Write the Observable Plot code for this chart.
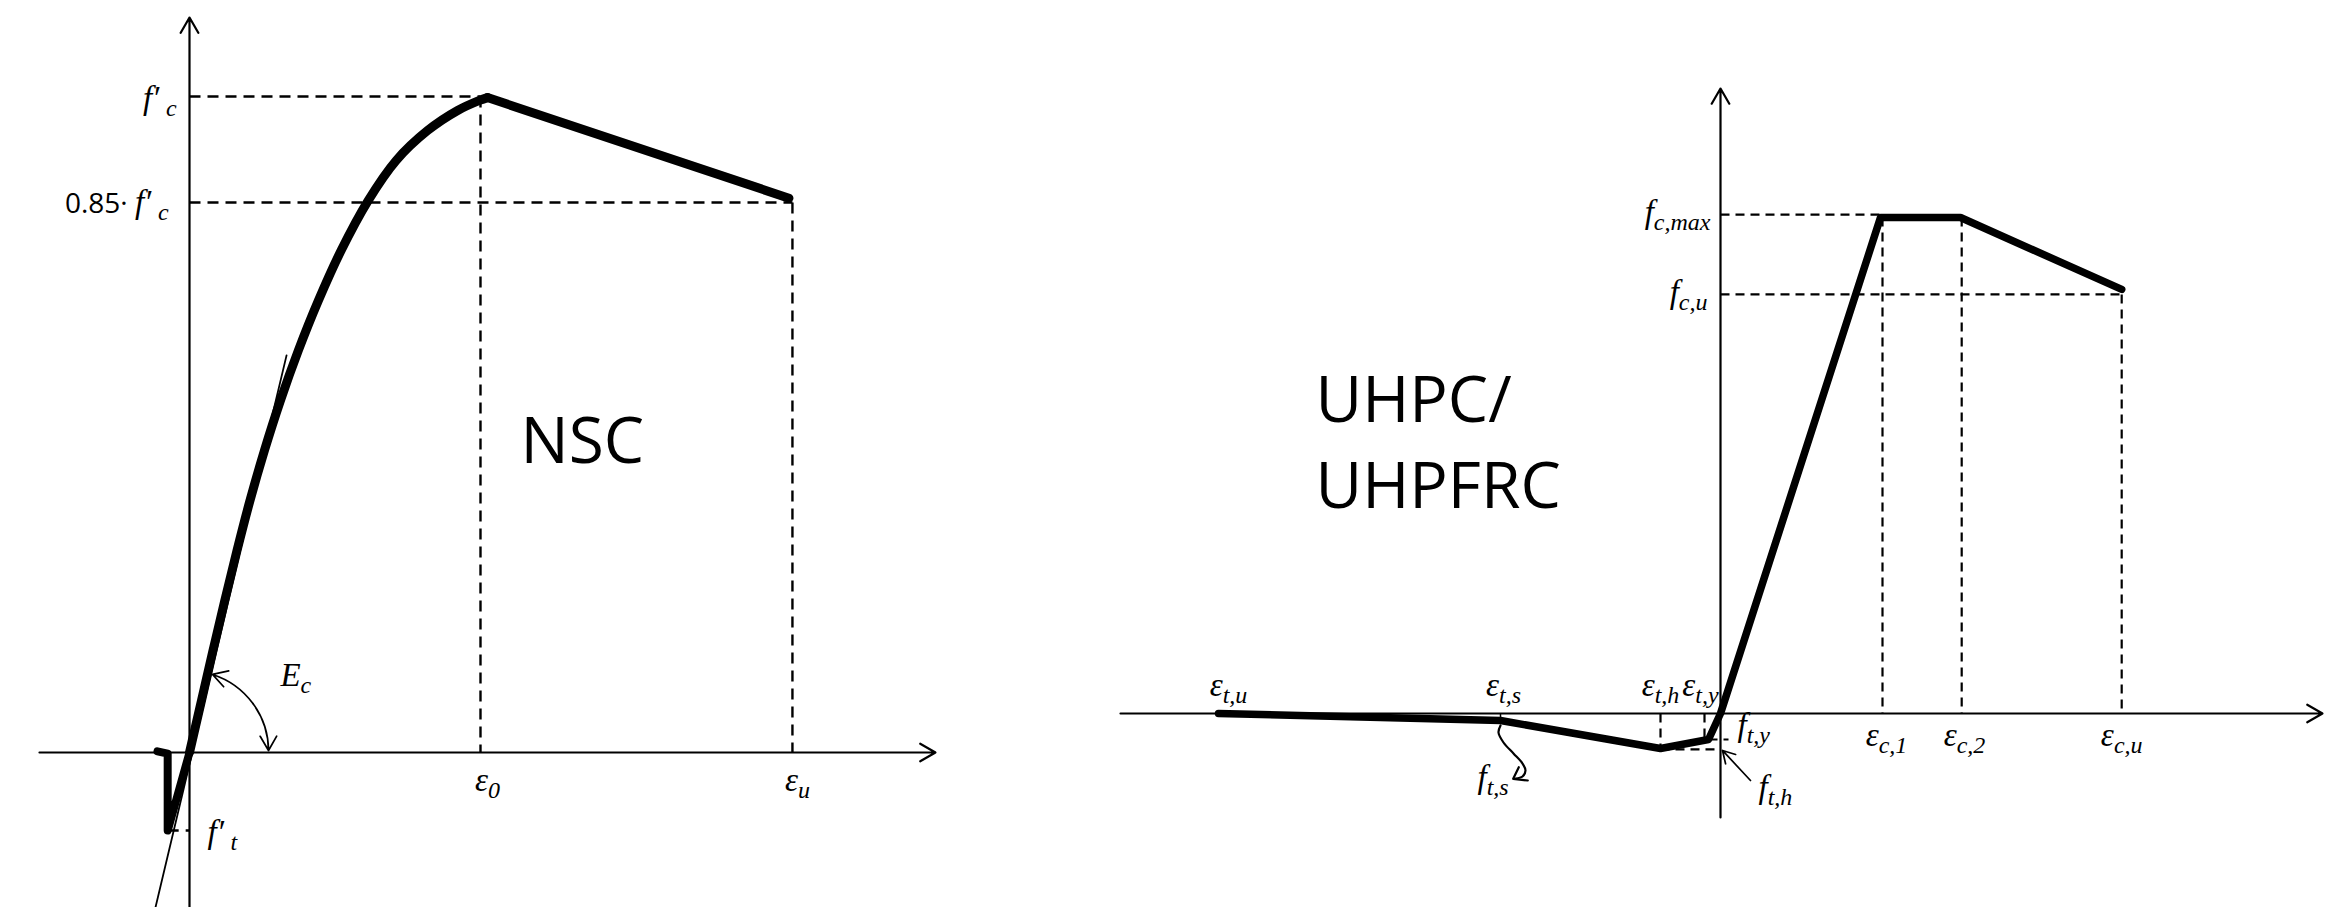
<!DOCTYPE html>
<html>
<head>
<meta charset="utf-8">
<script src="https://cdn.jsdelivr.net/npm/d3@7"></script>
<script src="https://cdn.jsdelivr.net/npm/@observablehq/plot@0.6"></script>
<style>
  html, body { margin: 0; padding: 0; background: #fff; }
  #wrap { position: relative; width: 2347px; height: 907px; overflow: hidden; background: #fff; }
  #left { position: absolute; left: 0; top: 0; }
  #right { position: absolute; left: 1000px; top: 0; }
</style>
</head>
<body>
<div id="wrap"><div id="left"></div><div id="right"></div></div>
<script>
// ================= NSC panel (left): strain in ‰, stress in MPa =================
const nscAscStrain = [0, 0.0825, 0.1615, 0.2426, 0.3265, 0.4158, 0.515, 0.625, 0.748, 0.886, 1.042, 1.228, 1.42, 1.636, 1.843, 1.993, 2.048];
const nscAscStress = [0, 2.378, 4.665, 6.951, 9.238, 11.524, 13.81, 16.097, 18.384, 20.67, 22.957, 25.24, 27.07, 28.44, 29.36, 29.82, 29.95];
const nscSoftStrain = [2.048, 4.12];
const nscSoftStress = [29.95, 25.35];
const nscTensStrain = [-0.22, -0.15, -0.15, 0];
const nscTensStress = [0.05, -0.05, -3.57, 0];
const nscTangentStrain = [-0.234, 0.667];
const nscTangentStress = [-7.09, 18.16];
const nscFc = 30, nscFc085 = 25.15, nscFt = -3.57, nscEps0 = 2.0, nscEpsU = 4.144;
const nscEcArcStrain = [0.158, 0.436, 0.543];   // on curve, middle, on axis
const nscEcArcStress = [3.57, 2.24, 0.09];
const nscAxisStrain = [-1.031, 5.127];
const nscAxisStress = [-7.09, 33.61];
const nscLabelText = ["f′\u2009_c", "0.85· ^f′\u2009_c", "E_c", "ε_0", "ε_u", "f′\u2009_t"];
const nscLabelX = [-0.089, -0.144, 0.625, 2.048, 4.179, 0.124];
const nscLabelY = [29.45, 24.65, 3.06, -1.74, -1.74, -4.16];
const nscLabelAnchor = ["end", "end", "start", "middle", "middle", "start"];
const nscTitle = "NSC";
const nscTitleX = 2.275, nscTitleY = 13.22;

// ================= UHPC panel (right): strain (schematic units), stress in MPa =================
const uhpcStrain = [-12.55, -5.5, -1.5, -0.3, 0, 4.0, 6.0, 10.03];
const uhpcStress = [0, -2.12, -10.6, -7.88, 0, 150.3, 150.3, 128.5];
const uhpcFcMax = 151.2, uhpcFcU = 127.0;
const uhpcEpsC1 = 4.05, uhpcEpsC2 = 6.03, uhpcEpsCU = 10.03;
const uhpcEpsTH = -1.5, uhpcEpsTY = -0.4, uhpcEpsTS = -5.5;
const uhpcFtH = -10.9, uhpcFtY = -7.88, uhpcFtS = -2.12;
const uhpcFtsCalloutStrain = [-5.5, -5.55, -5.425, -5.175, -4.95, -4.875, -4.95, -5.125];
const uhpcFtsCalloutStress = [-3.64, -5.76, -8.79, -12.12, -15.15, -17.27, -19.09, -19.7];
const uhpcFtsHeadStrain = [-5.0425, -5.1825, -4.8175];
const uhpcFtsHeadStress = [-16.27, -19.79, -20.3];
const uhpcFthArrowStrain = [0.75, 0.05];
const uhpcFthArrowStress = [-20.3, -11.2];
const uhpcAxisStrain = [-15, 15.05];
const uhpcAxisStress = [-31.5, 189.4];
const uhpcLabelText = ["f_c,max", "f_c,u", "ε_t,u", "ε_t,s", "ε_t,h", "ε_t,y", "f_t,y", "f_t,h", "f_t,s", "ε_c,1", "ε_c,2", "ε_c,u"];
const uhpcLabelX = [-0.25, -0.325, -12.3, -5.425, -1.5, -0.5, 0.425, 0.95, -6.075, 4.15, 6.1, 10.03];
const uhpcLabelY = [148.5, 124.5, 5.45, 5.45, 5.45, 5.45, -6.8, -25.5, -22.7, -9.7, -9.7, -9.7];
const uhpcLabelAnchor = ["end", "end", "middle", "middle", "middle", "middle", "start", "start", "start", "middle", "middle", "middle"];
const uhpcTitle = "UHPC/\nUHPFRC";
const uhpcTitleX = -10.125, uhpcTitleY = 62.4;

// ================= styling =================
const SERIF = "'Liberation Serif', 'DejaVu Serif', serif";
const SANS = "'Open Sans', 'Liberation Sans', sans-serif";
const INK = "#000";

const pts = (xs, ys) => xs.map((x, i) => [x, ys[i]]);
const labels = (t, x, y, a) => t.map((s, i) => ({text: s, x: x[i], y: y[i], anchor: a[i]}));

function labelMarks(data) {
  return ["start", "middle", "end"].map(anchor =>
    Plot.text(data.filter(d => d.anchor === anchor), {
      x: "x", y: "y", text: "text", textAnchor: anchor, lineAnchor: "bottom",
      fontFamily: SERIF, fontStyle: "italic", fontSize: 33, fill: INK
    })
  );
}

// turn "base_sub" (and "prefix^base_sub") into rich text with tspans
function richText(svg) {
  d3.select(svg).selectAll("text").each(function() {
    const s = this.textContent;
    if (!s.includes("_")) return;
    let pre = null, rest = s;
    if (s.includes("^")) [pre, rest] = s.split("^");
    const [base, sub] = rest.split("_");
    const t = d3.select(this);
    t.text(null);
    if (pre) t.append("tspan").attr("font-family", SANS).attr("font-style", "normal").attr("font-size", 28).text(pre);
    t.append("tspan").text(base);
    if (sub) t.append("tspan").attr("dy", 7).attr("font-size", 24).text(sub);
  });
}

// ================= left chart =================
const nscGuides = [
  {x1: 0, y1: nscFc, x2: nscEps0, y2: nscFc},
  {x1: 0, y1: nscFc085, x2: nscEpsU, y2: nscFc085},
  {x1: nscEps0, y1: nscFc, x2: nscEps0, y2: 0},
  {x1: nscEpsU, y1: nscFc085, x2: nscEpsU, y2: 0},
  {x1: nscTensStrain[2], y1: nscFt, x2: 0, y2: nscFt}
];
const nscAxes = [
  {x1: nscAxisStrain[0], y1: 0, x2: nscAxisStrain[1], y2: 0},
  {x1: 0, y1: nscAxisStress[0], x2: 0, y2: nscAxisStress[1]}
];
const nscEcArrows = [
  {x1: nscEcArcStrain[1], y1: nscEcArcStress[1], x2: nscEcArcStrain[0], y2: nscEcArcStress[0], bend: -18},
  {x1: nscEcArcStrain[1], y1: nscEcArcStress[1], x2: nscEcArcStrain[2], y2: nscEcArcStress[2], bend: 18}
];

const leftChart = Plot.plot({
  width: 1000, height: 907, margin: 0,
  style: {background: "transparent", overflow: "visible"},
  x: {domain: [-1.299, 5.574], range: [0, 1000], axis: null},
  y: {domain: [-7.088, 34.39], range: [907, 0], axis: null},
  marks: [
    Plot.link(nscGuides, {x1: "x1", y1: "y1", x2: "x2", y2: "y2", stroke: INK, strokeWidth: 2.4, strokeDasharray: "11,7"}),
    Plot.arrow(nscAxes, {x1: "x1", y1: "y1", x2: "x2", y2: "y2", stroke: INK, strokeWidth: 2.2, headLength: 12}),
    Plot.line(pts(nscTangentStrain, nscTangentStress), {stroke: INK, strokeWidth: 1.8}),
    ...nscEcArrows.map(d => Plot.arrow([d], {x1: "x1", y1: "y1", x2: "x2", y2: "y2", bend: d.bend, stroke: INK, strokeWidth: 1.7, headLength: 16})),
    Plot.line(pts(nscTensStrain, nscTensStress), {stroke: INK, strokeWidth: 8, strokeLinejoin: "round"}),
    Plot.line(pts(nscAscStrain, nscAscStress), {stroke: INK, strokeWidth: 9, curve: "catmull-rom"}),
    Plot.line(pts(nscSoftStrain, nscSoftStress), {stroke: INK, strokeWidth: 9}),
    ...labelMarks(labels(nscLabelText, nscLabelX, nscLabelY, nscLabelAnchor)),
    Plot.text([nscTitle], {x: nscTitleX, y: nscTitleY, text: d => d, textAnchor: "start", lineAnchor: "bottom", fontFamily: SANS, fontSize: 64, fill: INK})
  ]
});
richText(leftChart);
document.getElementById("left").append(leftChart);

// ================= right chart =================
const uhpcGuides = [
  {x1: 0, y1: uhpcFcMax, x2: uhpcEpsC1, y2: uhpcFcMax},
  {x1: 0, y1: uhpcFcU, x2: uhpcEpsCU, y2: uhpcFcU},
  {x1: uhpcEpsC1, y1: uhpcStress[5], x2: uhpcEpsC1, y2: 0},
  {x1: uhpcEpsC2, y1: uhpcStress[6], x2: uhpcEpsC2, y2: 0},
  {x1: uhpcEpsCU, y1: uhpcFcU, x2: uhpcEpsCU, y2: 0},
  {x1: uhpcEpsTH, y1: 0, x2: uhpcEpsTH, y2: uhpcStress[2]},
  {x1: uhpcEpsTY, y1: 0, x2: uhpcEpsTY, y2: uhpcFtY},
  {x1: uhpcEpsTH, y1: uhpcFtH, x2: 0, y2: uhpcFtH},
  {x1: uhpcStrain[3], y1: uhpcFtY, x2: 0.2, y2: uhpcFtY}
];
const uhpcAxes = [
  {x1: uhpcAxisStrain[0], y1: 0, x2: uhpcAxisStrain[1], y2: 0},
  {x1: 0, y1: uhpcAxisStress[0], x2: 0, y2: uhpcAxisStress[1]}
];

const rightChart = Plot.plot({
  width: 1347, height: 907, margin: 0,
  style: {background: "transparent", overflow: "visible"},
  x: {domain: [-18, 15.675], range: [0, 1347], axis: null},
  y: {domain: [-58.79, 216.06], range: [907, 0], axis: null},
  marks: [
    Plot.link(uhpcGuides, {x1: "x1", y1: "y1", x2: "x2", y2: "y2", stroke: INK, strokeWidth: 2.2, strokeDasharray: "9,6"}),
    Plot.arrow(uhpcAxes, {x1: "x1", y1: "y1", x2: "x2", y2: "y2", stroke: INK, strokeWidth: 2.2, headLength: 12}),
    Plot.link([{x1: uhpcEpsTS, y1: 0, x2: uhpcEpsTS, y2: uhpcFtS}], {x1: "x1", y1: "y1", x2: "x2", y2: "y2", stroke: INK, strokeWidth: 1.5}),
    Plot.line(pts(uhpcFtsCalloutStrain, uhpcFtsCalloutStress), {stroke: INK, strokeWidth: 2.2, curve: "catmull-rom"}),
    Plot.line(pts(uhpcFtsHeadStrain, uhpcFtsHeadStress), {stroke: INK, strokeWidth: 2.2}),
    Plot.arrow([{x1: uhpcFthArrowStrain[0], y1: uhpcFthArrowStress[0], x2: uhpcFthArrowStrain[1], y2: uhpcFthArrowStress[1]}],
      {x1: "x1", y1: "y1", x2: "x2", y2: "y2", stroke: INK, strokeWidth: 1.7, headLength: 14}),
    Plot.line(pts(uhpcStrain, uhpcStress), {stroke: INK, strokeWidth: 7.5, strokeLinejoin: "round"}),
    ...labelMarks(labels(uhpcLabelText, uhpcLabelX, uhpcLabelY, uhpcLabelAnchor)),
    Plot.text([uhpcTitle], {x: uhpcTitleX, y: uhpcTitleY, text: d => d, textAnchor: "start", lineAnchor: "bottom", lineHeight: 1.34, fontFamily: SANS, fontSize: 64, fill: INK})
  ]
});
richText(rightChart);
document.getElementById("right").append(rightChart);
</script>
</body>
</html>
